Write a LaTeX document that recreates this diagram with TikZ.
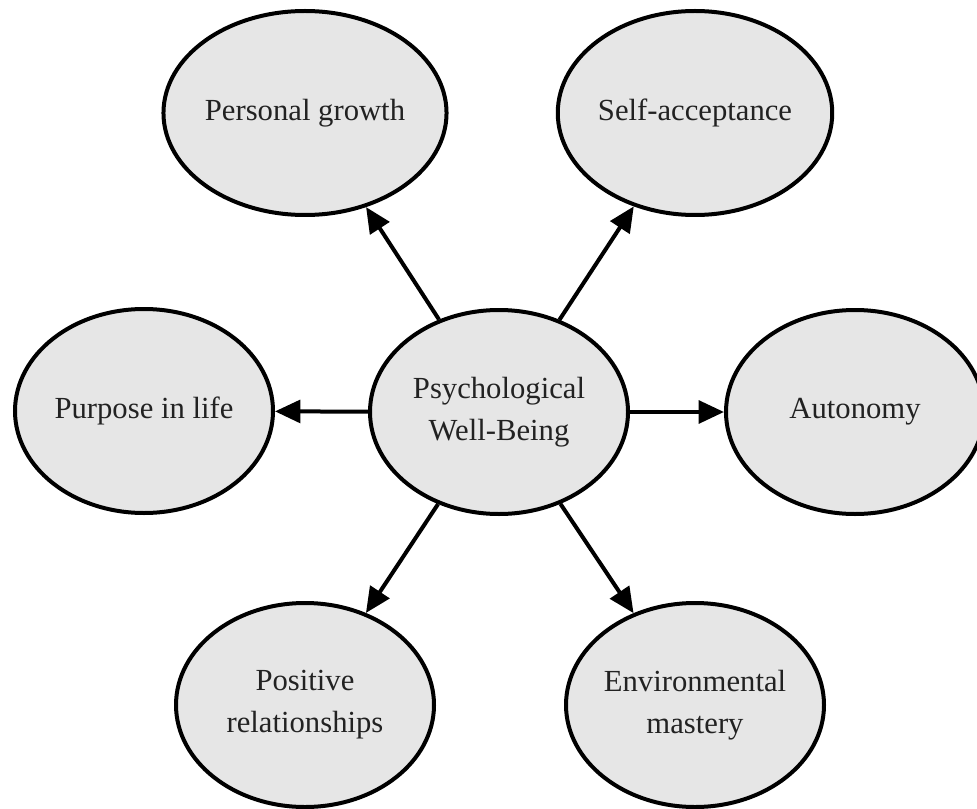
\documentclass[tikz,border=0pt]{standalone}
\usepackage{fontspec}
\setmainfont{Liberation Serif}
\usetikzlibrary{shapes.geometric,arrows.meta}
\definecolor{bubblefill}{HTML}{E6E6E6}
\definecolor{txt}{HTML}{222222}
\tikzset{
  bubble/.style={ellipse, draw=black, line width=3pt, fill=bubblefill,
    minimum width=193.5pt, minimum height=153pt, inner sep=0pt,
    align=center, text=txt, font=\fontsize{23}{31.5}\selectfont},
  link/.style={line width=3pt, -{Triangle[length=19pt,width=17pt]}}
}
\begin{document}
\begin{tikzpicture}[x=0.75pt,y=-0.75pt]
\fill[white] (0,0) rectangle (977,809);
\useasboundingbox (0,0) rectangle (977,809);
\node[bubble] (c)  at (499,412) {Psychological\\Well-Being};
\node[bubble] (pg) at (305,113) {Personal growth};
\node[bubble] (sa) at (695,113) {Self-acceptance};
\node[bubble] (pl) at (144,411) {Purpose in life};
\node[bubble] (au) at (855,412) {Autonomy};
\node[bubble] (pr) at (305,705) {Positive\\relationships};
\node[bubble] (em) at (695,705) {Environmental\\mastery};
\draw[link] (c) -- (pg);
\draw[link] (c) -- (sa);
\draw[link] (c) -- (pl);
\draw[link] (c) -- (au);
\draw[link] (c) -- (pr);
\draw[link] (c) -- (em);
\end{tikzpicture}
\end{document}
